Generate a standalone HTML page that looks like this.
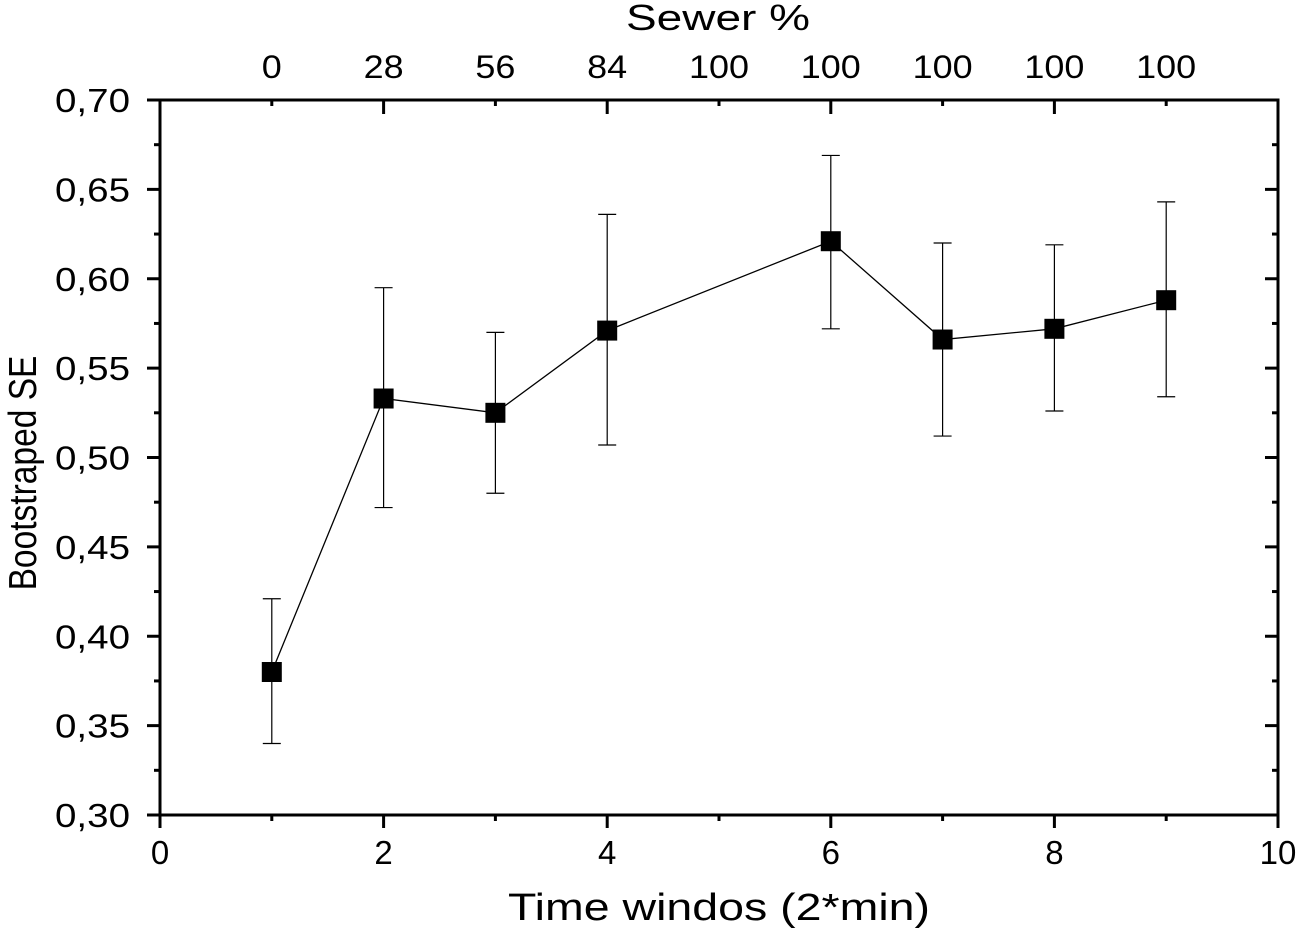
<!DOCTYPE html>
<html><head><meta charset="utf-8"><style>
html,body{margin:0;padding:0;background:#fff;}
svg{display:block;font-family:"Liberation Sans",Arial,sans-serif;}
</style></head><body>
<svg id="chart" width="1300" height="930"></svg>
<script>
const xs=[1,2,3,4,6,7,8,9];
const ys=[0.380,0.533,0.525,0.571,0.621,0.566,0.572,0.588];
const errHi=[0.421,0.595,0.570,0.636,0.669,0.620,0.619,0.643];
const errLo=[0.340,0.472,0.480,0.507,0.572,0.512,0.526,0.534];
const topLabels=["0","28","56","84","100","100","100","100","100"];
const xTicks=[0,2,4,6,8,10];
const yTicks=["0,30","0,35","0,40","0,45","0,50","0,55","0,60","0,65","0,70"];
const L=160,R=1278,T=100,B=815;
const X=v=>L+(v-0)/10*(R-L);
const Y=v=>B-(v-0.30)/0.40*(B-T);
const svg=document.getElementById('chart');
const NS='http://www.w3.org/2000/svg';
function mk(t,a,p){const e=document.createElementNS(NS,t);for(const k in a)e.setAttribute(k,a[k]);(p||svg).appendChild(e);return e;}
let e=mk('rect',{x:L,y:T,width:R-L,height:B-T,fill:'none',stroke:'#000','stroke-width':3});

for(let i=0;i<=10;i++){
  const major=i%2===0;const x=X(i);
  e=mk('line',{x1:x,x2:x,y1:B,y2:B+(major?13:6),stroke:'#000','stroke-width':3});
  
  if(i>=1&&i<=9){
    e=mk('line',{x1:x,x2:x,y1:T,y2:T+(major?14:6),stroke:'#000','stroke-width':3});
    
  }
}
xTicks.forEach(v=>{e=mk('text',{x:X(v),y:B+49,'font-size':33,'text-anchor':'middle'});e.textContent=String(v);
});
topLabels.forEach((s,i)=>{e=mk('text',{x:X(i+1),y:78,'font-size':32,'text-anchor':'middle',textLength:s.length*20,lengthAdjust:'spacingAndGlyphs'});e.textContent=s;
});
for(let i=0;i<=16;i++){
  const v=0.30+i*0.025;const y=Y(v);const major=i%2===0;
  e=mk('line',{x1:L-(major?13:6),x2:L,y1:y,y2:y,stroke:'#000','stroke-width':3});
  
  e=mk('line',{x1:R,x2:R-(major?13:6),y1:y,y2:y,stroke:'#000','stroke-width':3});
  
}
yTicks.forEach((s,i)=>{const v=0.30+i*0.05;e=mk('text',{x:L-30,y:Y(v)+12,'font-size':33,'text-anchor':'end',textLength:75,lengthAdjust:'spacingAndGlyphs'});e.textContent=s;
});
e=mk('text',{x:626,y:30,'font-size':36,textLength:184,lengthAdjust:'spacingAndGlyphs'});e.textContent='Sewer %';

e=mk('text',{x:508,y:920,'font-size':38,textLength:422,lengthAdjust:'spacingAndGlyphs'});e.textContent='Time windos (2*min)';

e=mk('text',{x:0,y:0,'font-size':39,'text-anchor':'middle',transform:'translate(36,473) rotate(-90) scale(0.86,1)'});e.textContent='Bootstraped SE';

xs.forEach((v,i)=>{const x=X(v);
 e=mk('path',{d:`M${x},${Y(errHi[i])}V${Y(errLo[i])}M${x-9},${Y(errHi[i])}H${x+9}M${x-9},${Y(errLo[i])}H${x+9}`,stroke:'#000','stroke-width':1.2,fill:'none'});
 });
e=mk('polyline',{points:xs.map((v,i)=>X(v)+','+Y(ys[i])).join(' '),fill:'none',stroke:'#000','stroke-width':1.3});

xs.forEach((v,i)=>{e=mk('rect',{x:X(v)-10,y:Y(ys[i])-10,width:20,height:20,fill:'#000'});
});
</script>
</body></html>
